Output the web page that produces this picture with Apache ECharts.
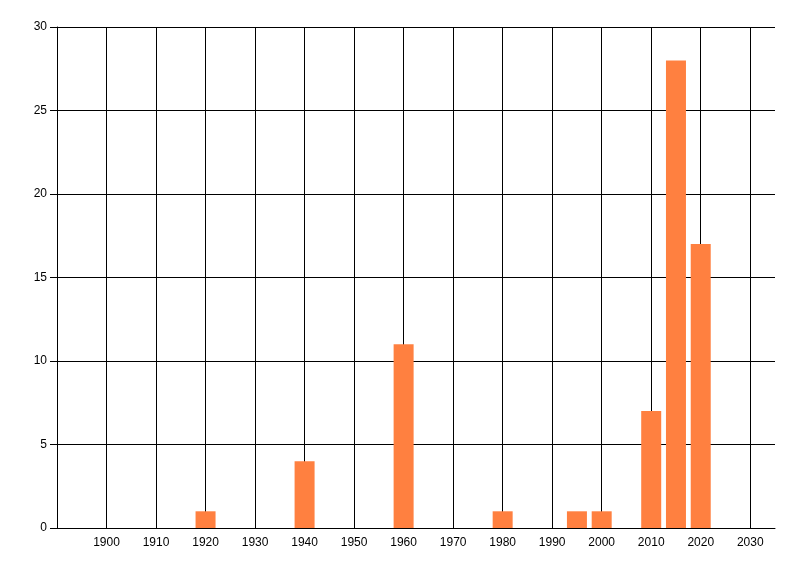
<!DOCTYPE html>
<html>
<head>
<meta charset="utf-8">
<script src="https://cdn.jsdelivr.net/npm/echarts@6/dist/echarts.min.js"></script>
<style>
  html, body { margin: 0; padding: 0; background: #fff; }
  #chart { width: 800px; height: 576px; }
</style>
</head>
<body>
<div id="chart"></div>
<script>
// values
const years = [1920, 1940, 1960, 1980, 1995, 2000, 2010, 2015, 2020];
const counts = [1, 4, 11, 1, 1, 1, 7, 28, 17];
const gridYears = [1900, 1910, 1920, 1930, 1940, 1950, 1960, 1970, 1980, 1990, 2000, 2010, 2020, 2030];

const chart = echarts.init(document.getElementById('chart'), null, { renderer: 'canvas' });

const font = { fontFamily: 'Liberation Sans, Arial, sans-serif', fontSize: 12, color: '#000' };

chart.setOption({
  animation: false,
  grid: { left: 57, right: 25, top: 27, bottom: 48 },
  xAxis: {
    type: 'value',
    min: 1890,
    max: 2035,
    interval: 10,
    axisLine: { show: true, onZero: false, lineStyle: { color: '#000', width: 1 } },
    axisTick: { show: false },
    splitLine: { show: false },
    axisLabel: {
      ...font,
      margin: 9,
      showMinLabel: false,
      showMaxLabel: false,
      formatter: v => (gridYears.includes(v) ? String(v) : '')
    }
  },
  yAxis: {
    type: 'value',
    min: 0,
    max: 30,
    interval: 5,
    axisLine: { show: true, lineStyle: { color: '#000', width: 1 } },
    axisTick: { show: true, length: 7, lineStyle: { color: '#000' } },
    splitLine: { show: true, lineStyle: { color: '#000', width: 1 } },
    axisLabel: { ...font, margin: 10 }
  },
  series: [
    {
      // vertical grid lines at the decade marks, kept behind the bars
      type: 'line',
      data: [],
      z: 0,
      silent: true,
      markLine: {
        z: 0,
        silent: true,
        symbol: 'none',
        label: { show: false },
        lineStyle: { color: '#000', width: 1, type: 'solid' },
        data: gridYears.map(y => ({ xAxis: y }))
      }
    },
    {
      type: 'bar',
      z: 3,
      barWidth: 20,
      itemStyle: { color: '#FF8040' },
      data: years.map((y, i) => [y, counts[i]])
    }
  ]
});
</script>
</body>
</html>
